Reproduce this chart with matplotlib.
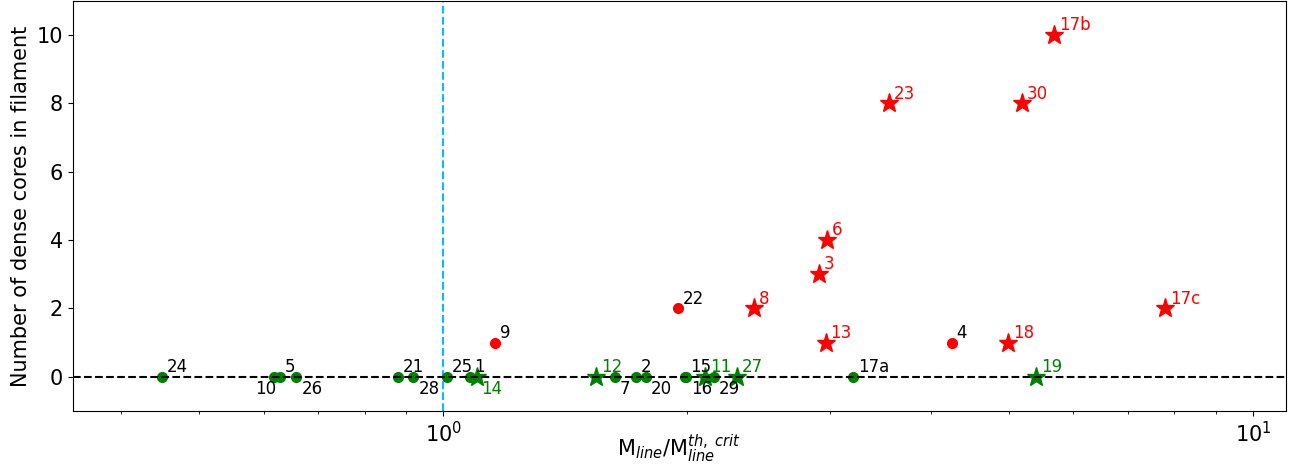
import numpy as np
import matplotlib
matplotlib.use("Agg")
import matplotlib.pyplot as plt

# ---------------- data ----------------
# green circles: filaments without cores (y = 0)
gc_names = ["24", "10", "5", "26", "21", "28", "25", "1", "7", "2", "20", "15", "16", "29", "17a"]
gc_x = [0.449, 0.618, 0.629, 0.659, 0.879, 0.919, 1.010, 1.078, 1.628, 1.730, 1.781, 1.991, 1.997, 2.159, 3.210]
gc_y = [0] * len(gc_x)

# green stars
gs_names = ["14", "12", "11", "27", "19"]
gs_x = [1.100, 1.546, 2.108, 2.307, 5.393]
gs_y = [0, 0, 0, 0, 0]

# red circles
rc_names = ["9", "22", "4"]
rc_x = [1.160, 1.948, 4.246]
rc_y = [1, 2, 1]

# red stars
rs_names = ["8", "3", "6", "13", "23", "18", "30", "17b", "17c"]
rs_x = [2.419, 2.911, 2.981, 2.966, 3.552, 4.985, 5.182, 5.681, 7.794]
rs_y = [2, 3, 4, 1, 8, 1, 8, 10, 2]

# labels that sit under their point instead of above it
BELOW = {"10", "26", "28", "14", "7", "20", "16", "29"}
LEFT = {"10"}

# ---------------- figure ----------------
fig, ax = plt.subplots(figsize=(12.91, 4.68), dpi=100)
fig.subplots_adjust(left=0.0565, right=0.996, top=0.998, bottom=0.122)

ax.plot(gc_x, gc_y, "o", color="green", ms=7, ls="none", zorder=2)
ax.plot(gs_x, gs_y, "*", color="green", ms=14, ls="none", zorder=2)
ax.plot(rc_x, rc_y, "o", color="red", ms=7, ls="none", zorder=2)
ax.plot(rs_x, rs_y, "*", color="red", ms=14, ls="none", zorder=2)

ax.axhline(0, color="black", ls="--", lw=1.5, zorder=3)
ax.axvline(1, color="deepskyblue", ls="--", lw=1.5, zorder=1)

def label(names, xs, ys, color):
    for n, x, y in zip(names, xs, ys):
        if n in LEFT:
            off, ha = (2, -12.5), "right"
        elif n in BELOW:
            off, ha = (3.5, -12.5), "left"
        else:
            off, ha = (3.5, 3.5), "left"
        ax.annotate(n, (x, y), xytext=off, textcoords="offset points",
                    ha=ha, va="baseline", fontsize=12, color=color)

label(gc_names, gc_x, gc_y, "black")
label(gs_names, gs_x, gs_y, "green")
label(rc_names, rc_x, rc_y, "black")
label(rs_names, rs_x, rs_y, "red")

ax.set_xscale("log")
ax.set_xlim(0.349, 10.98)
ax.set_ylim(-1, 11)
ax.set_yticks([0, 2, 4, 6, 8, 10])
ax.tick_params(labelsize=15)
ax.set_xlabel(r"M$_{line}$/M$_{line}^{th,\ crit}$", fontsize=15)
ax.xaxis.set_label_coords(0.5, -0.132)
ax.xaxis.label.set_va("bottom")
ax.set_ylabel("Number of dense cores in filament", fontsize=15)

fig.savefig("out.png", dpi=100)
